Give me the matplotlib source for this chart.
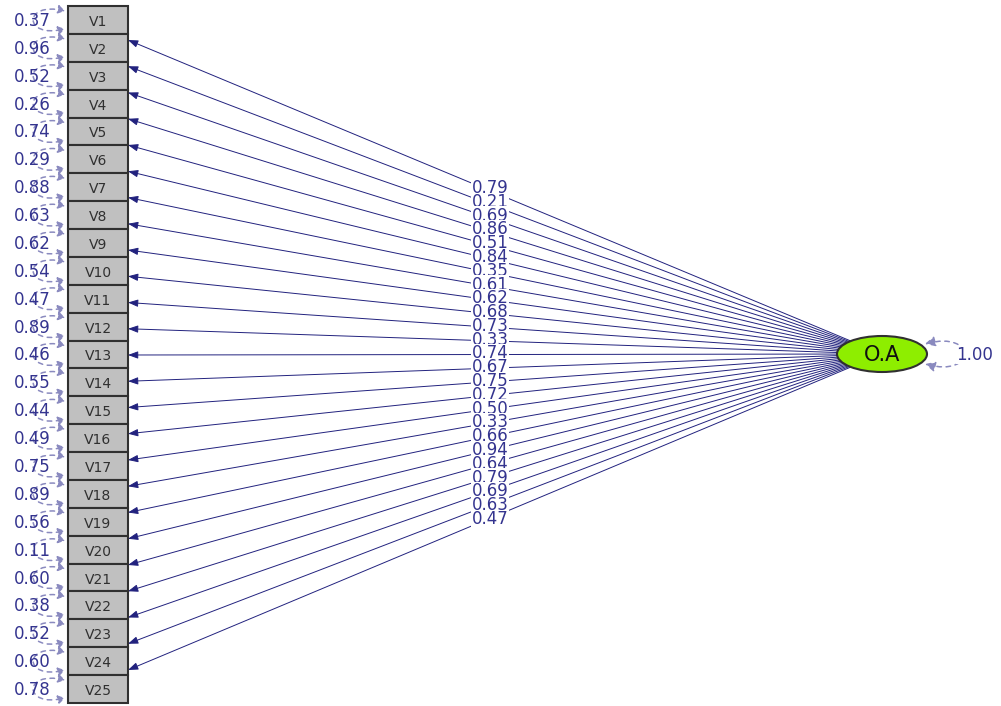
import matplotlib
matplotlib.use("Agg")
import numpy as np
import matplotlib.pyplot as plt
from matplotlib.patches import Rectangle, Ellipse, FancyArrowPatch
from matplotlib.path import Path

# data
indicators = ["V%d" % i for i in range(1, 26)]
loadings = [0.79, 0.21, 0.69, 0.86, 0.51, 0.84, 0.35, 0.61, 0.62, 0.68,
            0.73, 0.33, 0.74, 0.67, 0.75, 0.72, 0.50, 0.33, 0.66, 0.94,
            0.64, 0.79, 0.69, 0.63, 0.47]
error_var = [0.37, 0.96, 0.52, 0.26, 0.74, 0.29, 0.88, 0.63, 0.62, 0.54,
             0.47, 0.89, 0.46, 0.55, 0.44, 0.49, 0.75, 0.89, 0.56, 0.11,
             0.60, 0.38, 0.52, 0.60, 0.78]
factor = "O.A"
factor_var = 1.00

plt.rcParams['font.family'] = ['DejaVu Sans']
txt_col = "#34348f"
line_col = "#22227e"
dash_col = "#8a8abf"

fig = plt.figure(figsize=(10.01, 7.06), dpi=100)
ax = fig.add_axes([0, 0, 1, 1])
ax.set_xlim(0, 1001)
ax.set_ylim(706, 0)
ax.axis("off")

n = len(indicators)
box_x, box_w = 68, 60
top, bottom = 6, 703
box_h = (bottom - top) / n

ex, ey, ew, eh = 882, 354, 90, 36

for i, name in enumerate(indicators):
    y0 = top + i * box_h
    ax.add_patch(Rectangle((box_x, y0), box_w, box_h, facecolor="#c0c0c0",
                           edgecolor="#303030", lw=1.5, zorder=3))
    ax.text(box_x + box_w / 2, y0 + box_h / 2 + 2, name, ha="center", va="center",
            fontsize=10, color="#303030", zorder=4)

    # error variance loop
    ya, yb = y0 + 5, y0 + box_h - 5
    p = Path([(box_x - 3, ya), (box_x - 45, ya - 10), (box_x - 45, yb + 10), (box_x - 3, yb)],
             [Path.MOVETO, Path.CURVE4, Path.CURVE4, Path.CURVE4])
    ax.add_patch(FancyArrowPatch(path=p, arrowstyle="<|-|>,head_length=4,head_width=2.5",
                                 color=dash_col, lw=1.1, linestyle=(0, (3, 3)), zorder=2))
    ax.text(32, y0 + box_h / 2 + 1, "%.2f" % error_var[i], ha="center", va="center",
            fontsize=12, color=txt_col, zorder=5)

# loading arrows, starting on the ellipse border
for i, val in enumerate(loadings):
    yt = 40 + i * (670 - 40) / (n - 1)
    bx, by = box_x + box_w, yt
    dx, dy = bx - ex, by - ey
    t = 1 / np.sqrt((dx / (ew / 2)) ** 2 + (dy / (eh / 2)) ** 2)
    sx, sy = ex + t * dx, ey + t * dy
    ax.add_patch(FancyArrowPatch((sx, sy), (bx, by),
                                 arrowstyle="-|>,head_length=6,head_width=2.2",
                                 color=line_col, lw=0.7, shrinkA=0, shrinkB=0, zorder=1))
    ly = 188 + i * (519 - 188) / (n - 1)
    ax.text(490, ly, "%.2f" % val, ha="center", va="center", fontsize=12,
            color=txt_col, zorder=5,
            bbox=dict(facecolor="white", edgecolor="none", pad=0.1))

# latent factor
ax.add_patch(Ellipse((ex, ey), ew, eh, facecolor="#8eee00", edgecolor="#303030",
                     lw=1.5, zorder=6))
ax.text(ex, ey + 1, factor, ha="center", va="center", fontsize=15, color="#101010", zorder=7)

p = Path([(ex + ew / 2 - 2, ey - 10), (ex + ew / 2 + 50, ey - 24),
          (ex + ew / 2 + 50, ey + 24), (ex + ew / 2 - 2, ey + 10)],
         [Path.MOVETO, Path.CURVE4, Path.CURVE4, Path.CURVE4])
ax.add_patch(FancyArrowPatch(path=p, arrowstyle="<|-|>,head_length=6,head_width=3",
                             color=dash_col, lw=1.1, linestyle=(0, (3, 3)), zorder=2))
ax.text(975, ey + 1, "%.2f" % factor_var, ha="center", va="center", fontsize=12,
        color=txt_col, zorder=5, bbox=dict(facecolor="white", edgecolor="none", pad=0.1))

fig.savefig("out.png", dpi=100)
